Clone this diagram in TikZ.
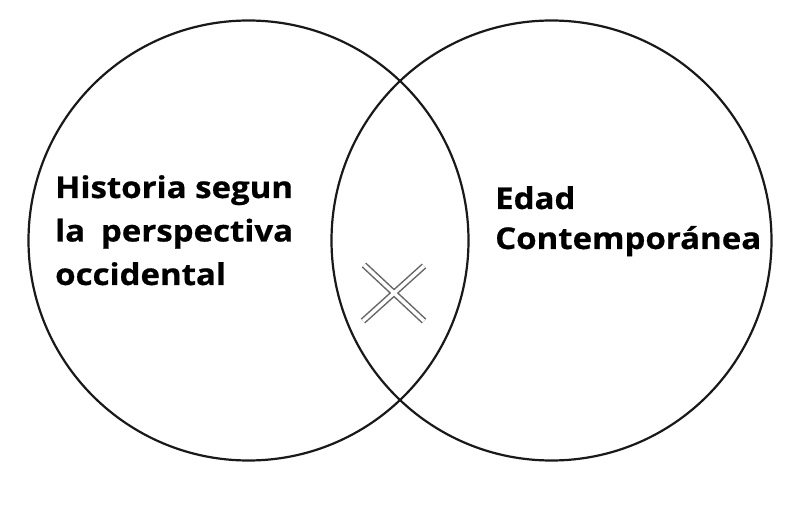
\documentclass[tikz,border=0pt]{standalone}
\usepackage{fontspec}
\setmainfont{Open Sans}[BoldFont={* Bold}]
\newfontfamily\labelfont{Open Sans Bold}[FakeStretch=1.10, FakeBold=0.6]
\begin{document}
\begin{tikzpicture}[x=1pt,y=-1pt,
  setcircle/.style={draw=black!90, line width=2.2pt, circle, minimum size=440pt, inner sep=0pt},
  label/.style={inner sep=0pt, align=left, text=black},
  xouter/.style={draw=black!60, line width=6.5pt},
  xinner/.style={draw=white, line width=3.5pt}]
\useasboundingbox[fill=white] (0,0) rectangle (800,518);
\node[setcircle] (left) at (248.5,240.5) {};
\node[setcircle] (right) at (551.5,240.5) {};
\node[label, anchor=north west, font=\labelfont\fontsize{30}{43.5}\selectfont] (ltext) at (55,175) {Historia segun\\{\setbox0\hbox{Historia segun}\makebox[\wd0][s]{la perspectiva}}\\occidental};
\node[label, anchor=north west, font=\labelfont\fontsize{30}{40}\selectfont] (rtext) at (495,186) {Edad\\Contemporánea};
\coordinate (xa) at (364,265);
\coordinate (xb) at (424,321);
\coordinate (xc) at (424,266);
\coordinate (xd) at (363,321);
\draw[xouter] (xa) -- (xb);
\draw[xouter] (xc) -- (xd);
\draw[xinner] (xa) -- (xb);
\draw[xinner] (xc) -- (xd);
\end{tikzpicture}
\end{document}
